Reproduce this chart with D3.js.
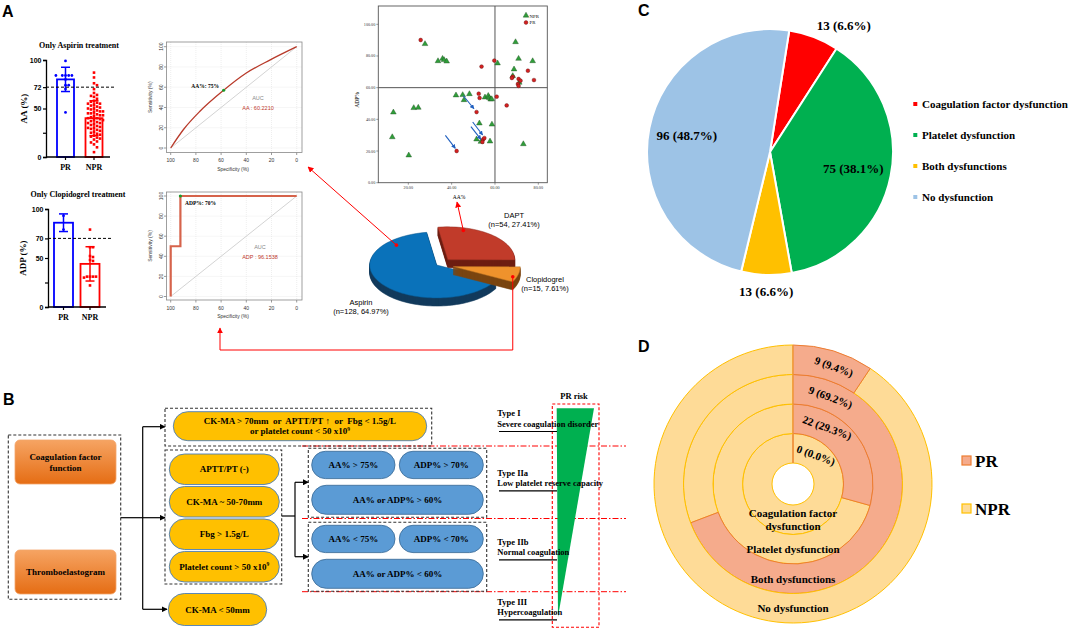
<!DOCTYPE html>
<html>
<head>
<meta charset="utf-8">
<script src="https://cdn.jsdelivr.net/npm/d3@7"></script>
<style>
body { margin: 0; background: #fff; }
svg { display: block; }
text { white-space: pre; }
</style>
</head>
<body>
<svg id="fig" width="1084" height="632"></svg>
<script>
// ---------------- data ----------------
// A: bar + dot plots
const groups = ["PR", "NPR"];
const aspMean = [80, 40];
const aspSd = [12.5, 18];
const aspPR = [99, 84, 84, 84, 84, 84, 80, 74, 74, 70, 46];
const aspNPR = [87, 82, 76, 74, 70, 66, 64, 63, 62, 60, 58, 57, 56, 55, 55, 54, 53, 52, 51, 50, 50,
  49, 48, 47, 47, 46, 45, 45, 44, 43, 43, 42, 41, 40, 40, 39, 38, 38, 37, 36, 35, 35, 34, 33, 32,
  31, 30, 30, 29, 28, 27, 26, 25, 24, 23, 22, 21, 20, 19, 18, 16, 15, 13, 10, 5];
const aspTicks = [0, 25, 50, 72, 100];
const aspTickLabels = [0, 50, 72, 100];
const aspCut = 72;

const clopMean = [86, 44];
const clopSd = [9, 17.5];
const clopPR = [93, 79];
const clopNPR = [79, 61, 61, 52, 51, 48, 47, 31, 31, 31, 31, 30, 22];
const clopTicks = [0, 25, 50, 70, 100];
const clopTickLabels = [0, 50, 70, 100];
const clopCut = 70;

// A: ROC curves (specificity, sensitivity)
const rocTicks = [0, 20, 40, 60, 80, 100];
const rocAaSpec = [100, 90, 77, 58, 40, 21, 0];
const rocAaSens = [0, 18, 36, 57, 74, 87, 100];
const rocAaCut = [58, 57];
const rocAdpSpec = [100, 100, 92.3, 92.3, 0];
const rocAdpSens = [0, 50, 50, 100, 100];
const rocAdpCut = [92.3, 100];

// A: scatter AA% vs ADP% (DAPT)
const prAA = [25.7, 59.7, 53.8, 75.2, 68.2, 67.8, 70.9, 71.8, 70.6, 70.9, 78.0, 52.5, 52.9, 60.8, 51.5, 65.4, 54.6, 54.2, 55.1, 42.3];
const prADP = [90.1, 77.1, 73.3, 70.7, 66.9, 66.1, 65.5, 64.4, 62.3, 61.1, 64.8, 56.2, 53.5, 54.3, 44.6, 48.8, 27.4, 25.7, 28.2, 20.0];
const nprAA = [27.7, 69.5, 33.7, 35.8, 36.5, 37.7, 61.2, 70.9, 77.4, 68.8, 68.2, 71.2, 42.0, 45.1, 48.2, 45.7,
  55.4, 56.9, 57.4, 58.0, 58.5, 22.5, 24.6, 13.1, 12.6, 20.2, 52.8, 58.6, 51.5, 53.5, 57.7, 73.1];
const nprADP = [87.6, 88.8, 76.8, 78.3, 77.5, 76.6, 75.4, 78.3, 76.8, 71.6, 67.4, 63.2, 55.2, 55.4, 56.0, 52.2,
  53.9, 54.9, 53.5, 52.6, 52.8, 47.2, 47.4, 44.4, 28.8, 17.3, 37.5, 36.8, 27.4, 25.9, 26.1, 24.4];
const scatTicksX = [20, 40, 60, 80];
const scatTicksY = [0, 20, 40, 60, 80, 100];
const shiftFromAA = [45.4, 49.7, 48.9, 37.1];
const shiftFromADP = [54.9, 38.3, 35.4, 29.9];
const shiftToAA = [50.3, 54.3, 53.5, 41.7];
const shiftToADP = [46.7, 30.1, 27.4, 21.7];

// A: treatment pie
const treatNames = ["DAPT", "Clopidogrel", "Aspirin"];
const treatN = [54, 15, 128];

// B: flow chart texts
const inputBoxes = [["Coagulation factor", "function"], ["Thromboelastogram"]];
const severeText = ["CK-MA > 70mm  or  APTT/PT \u2191  or  Fbg < 1.5g/L", "or platelet count < 50 x10"];
const normalConds = ["APTT/PT (-)", "CK-MA ~ 50-70mm", "Fbg > 1.5g/L", "Platelet count > 50 x10"];
const hyperText = "CK-MA < 50mm";
const lowRes = ["AA% > 75%", "ADP% > 70%", "AA% or ADP% > 60%"];
const normRes = ["AA% < 75%", "ADP% < 70%", "AA% or ADP% < 60%"];
const typeNames = ["Type I", "Type IIa", "Type IIb", "Type III"];
const typeDesc = ["Severe coagulation disorder", "Low platelet reserve capacity", "Normal coagulation", "Hypercoagulation"];

// C: dysfunction pie
const dysNames = ["Coagulation factor dysfunction", "Platelet dysfunction", "Both dysfunctions", "No dysfunction"];
const dysCounts = [13, 75, 13, 96];

// D: nested doughnut, inner ring to outer ring
const ringNames = [["Coagulation factor", "dysfunction"], ["Platelet dysfunction"], ["Both dysfunctions"], ["No dysfunction"]];
const ringPR = [0, 22, 9, 9];
const ringNPR = [13, 53, 4, 87];
const prGroups = ["PR", "NPR"];

// ---------------- setup ----------------
const SERIF = '"Liberation Serif","Times New Roman",serif';
const SANS = '"Liberation Sans",Arial,sans-serif';
const svg = d3.select("#fig");
svg.append("rect").attr("width", 1084).attr("height", 632).attr("fill", "#fff");
const defs = svg.append("defs");

function marker(id, color, size) {
    defs.append("marker").attr("id", id)
        .attr("viewBox", "0 0 10 10").attr("refX", 9).attr("refY", 5)
        .attr("markerWidth", size).attr("markerHeight", size)
        .attr("orient", "auto-start-reverse")
        .append("path").attr("d", "M0,0L10,5L0,10Z").attr("fill", color);
}
marker("arBlack", "#000", 5);
marker("arRed", "#f00", 6);
marker("arBlue", "#1f5fbf", 4);

function txt(g, x, y, s, size, opts) {
    opts = opts || {};
    return g.append("text").attr("x", x).attr("y", y).text(s)
        .attr("font-family", opts.family || SERIF)
        .attr("font-weight", opts.weight || "bold")
        .attr("font-size", size)
        .attr("fill", opts.fill || "#000")
        .attr("text-anchor", opts.anchor || "middle");
}

// panel letters
[["A", 2, 17], ["B", 3, 405], ["C", 638, 16], ["D", 638, 352]].forEach(p => {
    txt(svg, p[1], p[2], p[0], 16, { family: SANS, anchor: "start" });
});

// ---------------- A: bars with dots ----------------
function swarm(vals, y, cx, gap) {
    let pts = vals.map(v => ({ v: v, py: y(v) })).sort((a, b) => a.py - b.py);
    let placed = [];
    pts.forEach(p => {
        for (let k = 0; k < 30; k++) {
            let off = (k % 2 ? 1 : -1) * Math.ceil(k / 2) * gap;
            let hit = placed.some(q => Math.abs(q.px - (cx + off)) < gap && Math.abs(q.py - p.py) < gap);
            if (!hit || k == 29) { p.px = cx + off; break; }
        }
        placed.push(p);
    });
    return placed;
}

function barPanel(cfg) {
    const g = svg.append("g");
    const y = d3.scaleLinear().domain([0, 100]).range([cfg.y0, cfg.y1]);
    const x = d3.scalePoint().domain(groups).range(cfg.xr);
    const colors = ["#0000ff", "#ff0000"];

    g.selectAll("rect.bar").data(cfg.mean).join("rect").attr("class", "bar")
        .attr("x", (d, i) => x(groups[i]) - cfg.bw / 2).attr("y", d => y(d))
        .attr("width", cfg.bw).attr("height", d => cfg.y0 - y(d))
        .attr("fill", "#fff").attr("stroke", (d, i) => colors[i]).attr("stroke-width", 1.8);

    swarm(cfg.pr, y, x("PR"), 3.2).forEach(p => {
        g.append("circle").attr("cx", p.px).attr("cy", p.py).attr("r", 1.4).attr("fill", colors[0]);
    });
    swarm(cfg.npr, y, x("NPR"), 3.0).forEach(p => {
        g.append("rect").attr("x", p.px - 1.3).attr("y", p.py - 1.3).attr("width", 2.6).attr("height", 2.6).attr("fill", colors[1]);
    });

    cfg.mean.forEach((m, i) => {
        const cx = x(groups[i]);
        const lo = y(m - cfg.sd[i]), hi = y(m + cfg.sd[i]);
        g.append("line").attr("x1", cx).attr("x2", cx).attr("y1", lo).attr("y2", hi)
            .attr("stroke", colors[i]).attr("stroke-width", 1.5);
        [lo, hi].forEach(v => g.append("line").attr("x1", cx - 4.5).attr("x2", cx + 4.5).attr("y1", v).attr("y2", v)
            .attr("stroke", colors[i]).attr("stroke-width", 1.5));
    });

    g.append("line").attr("x1", cfg.ax).attr("x2", cfg.cutEnd).attr("y1", y(cfg.cut)).attr("y2", y(cfg.cut))
        .attr("stroke", "#000").attr("stroke-width", 1).attr("stroke-dasharray", "3,2");

    const ax = g.append("g").attr("transform", `translate(${cfg.ax},0)`)
        .call(d3.axisLeft(y).tickValues(cfg.ticks).tickSize(3)
            .tickFormat(d => cfg.labels.includes(d) ? d : ""));
    ax.select(".domain").attr("stroke-width", 1.3);
    ax.selectAll(".tick line").attr("stroke-width", 1.2);
    ax.selectAll("text").attr("font-family", SANS).attr("font-weight", "bold").attr("font-size", 7).attr("x", -4.5);

    g.append("line").attr("x1", cfg.ax).attr("x2", cfg.xEnd).attr("y1", cfg.y0).attr("y2", cfg.y0)
        .attr("stroke", "#000").attr("stroke-width", 1.3);
    groups.forEach(k => {
        g.append("line").attr("x1", x(k)).attr("x2", x(k)).attr("y1", cfg.y0).attr("y2", cfg.y0 + 3)
            .attr("stroke", "#000").attr("stroke-width", 1.2);
        txt(g, x(k), cfg.y0 + 13, k, 8);
    });

    txt(g, cfg.titleX, cfg.titleY, cfg.title, 8);
    txt(g, 0, 0, cfg.ylabel, 9).attr("transform", `translate(${cfg.ylabX},${(cfg.y0 + cfg.y1) / 2}) rotate(-90)`);
}

barPanel({ y0: 157, y1: 60, xr: [65.5, 94], bw: 17, ax: 46, xEnd: 110, cutEnd: 115,
    mean: aspMean, sd: aspSd, pr: aspPR, npr: aspNPR, ticks: aspTicks, labels: aspTickLabels, cut: aspCut,
    title: "Only Aspirin treatment", titleX: 79, titleY: 48, ylabel: "AA (%)", ylabX: 27 });
barPanel({ y0: 307, y1: 209, xr: [63.5, 90], bw: 19, ax: 48, xEnd: 106, cutEnd: 112,
    mean: clopMean, sd: clopSd, pr: clopPR, npr: clopNPR, ticks: clopTicks, labels: clopTickLabels, cut: clopCut,
    title: "Only Clopidogrel treatment", titleX: 78, titleY: 197, ylabel: "ADP (%)", ylabX: 26 });

// ---------------- A: ROC curves ----------------
function rocPanel(cfg) {
    const g = svg.append("g");
    const x = d3.scaleLinear().domain([100, 0]).range([170.7, 296.7]);
    const y = d3.scaleLinear().domain([0, 100]).range(cfg.yr);
    const bx0 = 166.5, bx1 = 302;
    rocTicks.forEach(t => {
        g.append("line").attr("x1", x(t)).attr("x2", x(t)).attr("y1", cfg.by0).attr("y2", cfg.by1)
            .attr("stroke", "#e2e2e2").attr("stroke-width", 0.6).attr("stroke-dasharray", "1,1");
        g.append("line").attr("x1", bx0).attr("x2", bx1).attr("y1", y(t)).attr("y2", y(t))
            .attr("stroke", "#e2e2e2").attr("stroke-width", 0.6).attr("stroke-dasharray", "1,1");
        g.append("line").attr("x1", x(t)).attr("x2", x(t)).attr("y1", cfg.by1).attr("y2", cfg.by1 + 2.5)
            .attr("stroke", "#555").attr("stroke-width", 0.6);
        txt(g, x(t), cfg.by1 + 9.5, t, 5, { family: SANS, weight: "normal", fill: "#333" });
        g.append("line").attr("x1", bx0).attr("x2", bx0 - 2.5).attr("y1", y(t)).attr("y2", y(t))
            .attr("stroke", "#555").attr("stroke-width", 0.6);
        txt(g, 0, 0, t, 5, { family: SANS, weight: "normal", fill: "#333" })
            .attr("transform", `translate(${bx0 - 4},${y(t)}) rotate(-90)`);
    });
    g.append("rect").attr("x", bx0).attr("y", cfg.by0).attr("width", bx1 - bx0).attr("height", cfg.by1 - cfg.by0)
        .attr("fill", "none").attr("stroke", "#888").attr("stroke-width", 0.8);
    g.append("line").attr("x1", x(100)).attr("y1", y(0)).attr("x2", x(0)).attr("y2", y(100))
        .attr("stroke", "#c8c8c8").attr("stroke-width", 0.8);
    const pts = cfg.spec.map((s, i) => [x(s), y(cfg.sens[i])]);
    g.append("path").attr("d", d3.line().curve(cfg.curve)(pts))
        .attr("fill", "none").attr("stroke", cfg.color).attr("stroke-width", cfg.lw);
    g.append("circle").attr("cx", x(cfg.cutPt[0])).attr("cy", y(cfg.cutPt[1])).attr("r", 1.6).attr("fill", "#1a9a2a");
    txt(g, cfg.cutLabX, cfg.cutLabY, cfg.cutLab, 5.5, { anchor: cfg.cutAnchor });
    txt(g, cfg.aucX, cfg.aucY, "AUC", 5.5, { weight: "normal", fill: "#8a8a8a", family: SANS });
    txt(g, cfg.aucX, cfg.aucY + 9.5, cfg.aucLab, 5.5, { weight: "normal", fill: "#c0392b", family: SANS });
    txt(g, 233, cfg.by1 + 18, "Specificity (%)", 5, { family: SANS, weight: "normal", fill: "#333" });
    txt(g, 0, 0, "Sensitivity (%)", 5, { family: SANS, weight: "normal", fill: "#333" })
        .attr("transform", `translate(152,${(cfg.by0 + cfg.by1) / 2}) rotate(-90)`);
}
rocPanel({ yr: [148, 46.7], by0: 42, by1: 152.5, spec: rocAaSpec, sens: rocAaSens, cutPt: rocAaCut,
    curve: d3.curveMonotoneX, color: "#b83a2a", lw: 1.3, cutLab: "AA%: 75%", cutLabX: 219, cutLabY: 88, cutAnchor: "end",
    aucX: 258, aucY: 100, aucLab: "AA : 60.2210" });
rocPanel({ yr: [296.5, 196], by0: 192, by1: 300, spec: rocAdpSpec, sens: rocAdpSens, cutPt: rocAdpCut,
    curve: d3.curveLinear, color: "#d6634b", lw: 2.2, cutLab: "ADP%: 70%", cutLabX: 185, cutLabY: 205, cutAnchor: "start",
    aucX: 260, aucY: 249, aucLab: "ADP : 96.1538" });

// ---------------- A: scatter ----------------
(function () {
    const g = svg.append("g");
    const x = d3.scaleLinear().domain([0, 80]).range([365, 538.3]);
    const y = d3.scaleLinear().domain([0, 100]).range([182.7, 24.3]);
    const bx0 = 378.3, bx1 = 547.3, by0 = 6, by1 = 182.7;
    g.append("rect").attr("x", bx0).attr("y", by0).attr("width", bx1 - bx0).attr("height", by1 - by0)
        .attr("fill", "none").attr("stroke", "#555").attr("stroke-width", 0.9);
    scatTicksX.forEach(t => {
        g.append("line").attr("x1", x(t)).attr("x2", x(t)).attr("y1", by1).attr("y2", by1 + 2).attr("stroke", "#555").attr("stroke-width", 0.6);
        txt(g, x(t), by1 + 6.5, t.toFixed(2), 4.2, { weight: "normal", fill: "#333" });
    });
    scatTicksY.forEach(t => {
        g.append("line").attr("x1", bx0).attr("x2", bx0 - 2).attr("y1", y(t)).attr("y2", y(t)).attr("stroke", "#555").attr("stroke-width", 0.6);
        txt(g, bx0 - 3, y(t) + 1.5, t.toFixed(2), 4.2, { weight: "normal", fill: "#333", anchor: "end" });
    });
    g.append("line").attr("x1", x(60)).attr("x2", x(60)).attr("y1", by0).attr("y2", by1).attr("stroke", "#555").attr("stroke-width", 1);
    g.append("line").attr("x1", bx0).attr("x2", bx1).attr("y1", y(60)).attr("y2", y(60)).attr("stroke", "#555").attr("stroke-width", 1);
    txt(g, 459, 199, "AA%", 5.5, { weight: "normal" });
    txt(g, 0, 0, "ADP%", 5.5, { weight: "normal" }).attr("transform", "translate(359,100) rotate(-90)");

    const tri = d3.symbol().type(d3.symbolTriangle).size(14);
    nprAA.forEach((a, i) => {
        g.append("path").attr("d", tri).attr("transform", `translate(${x(a)},${y(nprADP[i])})`)
            .attr("fill", "#2f9e3a").attr("stroke", "#1f4d1f").attr("stroke-width", 0.4);
    });
    prAA.forEach((a, i) => {
        g.append("circle").attr("cx", x(a)).attr("cy", y(prADP[i])).attr("r", 1.9)
            .attr("fill", "#d42020").attr("stroke", "#5a1010").attr("stroke-width", 0.4);
    });
    shiftFromAA.forEach((a, i) => {
        g.append("line").attr("x1", x(a)).attr("y1", y(shiftFromADP[i])).attr("x2", x(shiftToAA[i])).attr("y2", y(shiftToADP[i]))
            .attr("stroke", "#1f5fbf").attr("stroke-width", 1.1).attr("marker-end", "url(#arBlue)");
    });
    // legend
    g.append("path").attr("d", tri).attr("transform", "translate(526,15.5)").attr("fill", "#2f9e3a").attr("stroke", "#1f4d1f").attr("stroke-width", 0.4);
    txt(g, 529.5, 17.5, "NPR", 4.8, { anchor: "start", weight: "normal" });
    g.append("circle").attr("cx", 526).attr("cy", 22.5).attr("r", 1.9).attr("fill", "#d42020").attr("stroke", "#5a1010").attr("stroke-width", 0.4);
    txt(g, 529.5, 24.3, "PR", 4.8, { anchor: "start", weight: "normal" });
})();

// ---------------- A: 3D pie of treatments ----------------
(function () {
    const g = svg.append("g");
    const cx = 436.7, cy = 265, rx = 67, ry = 33, depth = 8, explode = 17;
    const a0 = -8.6 * Math.PI / 180;
    const slices = d3.pie().sort(null).startAngle(a0).endAngle(a0 + 2 * Math.PI)(treatN);
    const topCol = { "DAPT": "#c13b2a", "Clopidogrel": "#ef922c", "Aspirin": "#0a72ba" };
    const sideCol = { "DAPT": "#6e1f12", "Clopidogrel": "#7a4510", "Aspirin": "#123a5c" };
    function pt(ox, oy, t, k) { return [ox + k * rx * Math.sin(t), oy - k * ry * Math.cos(t)]; }
    function slicePath(ox, oy, s0, s1) {
        const n = Math.max(2, Math.ceil((s1 - s0) / 0.04));
        const pts = [[ox, oy]];
        for (let i = 0; i <= n; i++) pts.push(pt(ox, oy, s0 + (s1 - s0) * i / n, 1));
        return d3.line()(pts) + "Z";
    }
    const centers = slices.map((s, i) => {
        const mid = (s.startAngle + s.endAngle) / 2;
        const e = treatNames[i] == "Aspirin" ? 0 : explode;
        return [cx + e * Math.sin(mid), cy - e * 0.4 * Math.cos(mid)];
    });
    [0, 2, 1].forEach(i => {
        const s = slices[i], c = centers[i], nm = treatNames[i];
        for (let d = depth; d >= 1; d--) {
            g.append("path").attr("d", slicePath(c[0], c[1] + d, s.startAngle, s.endAngle))
                .attr("fill", sideCol[nm]).attr("stroke", sideCol[nm]).attr("stroke-width", 0.6);
        }
        g.append("path").attr("d", slicePath(c[0], c[1], s.startAngle, s.endAngle))
            .attr("fill", topCol[nm]).attr("stroke", d3.color(topCol[nm]).darker(0.8)).attr("stroke-width", 0.5);
    });

    // callout dots and red arrows to the plots they belong to
    const asp = pt(centers[2][0], centers[2][1], -45 * Math.PI / 180, 0.85);
    const dapt = pt(centers[0][0], centers[0][1], 14.6 * Math.PI / 180, 0.92);
    const clop = pt(centers[1][0], centers[1][1], 109 * Math.PI / 180, 0.94);
    const red = "#ff0000";
    g.append("line").attr("x1", asp[0]).attr("y1", asp[1]).attr("x2", 308).attr("y2", 167)
        .attr("stroke", red).attr("stroke-width", 1).attr("marker-end", "url(#arRed)");
    g.append("line").attr("x1", dapt[0]).attr("y1", dapt[1]).attr("x2", 457).attr("y2", 202)
        .attr("stroke", red).attr("stroke-width", 1).attr("marker-end", "url(#arRed)");
    g.append("path").attr("d", d3.line()([clop, [clop[0], 350], [220, 350], [220, 328]]))
        .attr("fill", "none").attr("stroke", red).attr("stroke-width", 1).attr("marker-end", "url(#arRed)");
    [asp, dapt, clop].forEach(p => g.append("circle").attr("cx", p[0]).attr("cy", p[1]).attr("r", 1.8).attr("fill", red));

    const total = d3.sum(treatN);
    const pct = n => (n / total * 100).toFixed(2) + "%";
    const labs = { "DAPT": [514, 217.5], "Clopidogrel": [545, 282], "Aspirin": [361, 305] };
    treatNames.forEach((nm, i) => {
        const p = labs[nm];
        txt(g, p[0], p[1], nm, 7.5, { family: SANS, weight: "normal" });
        txt(g, p[0], p[1] + 9, `(n=${treatN[i]}, ${pct(treatN[i])})`, 7.5, { family: SANS, weight: "normal" });
    });
})();

// ---------------- B: flow chart ----------------
(function () {
    const g = svg.append("g");
    const grad = defs.append("linearGradient").attr("id", "orangeGrad").attr("x1", 0).attr("y1", 0).attr("x2", 0).attr("y2", 1);
    grad.append("stop").attr("offset", "0%").attr("stop-color", "#f6a463");
    grad.append("stop").attr("offset", "100%").attr("stop-color", "#e56d14");

    function dashBox(x, y, w, h, color, dash) {
        g.append("rect").attr("x", x).attr("y", y).attr("width", w).attr("height", h)
            .attr("fill", "none").attr("stroke", color || "#333").attr("stroke-width", 1.1)
            .attr("stroke-dasharray", dash || "3,2");
    }
    function pill(x, y, w, h, fill, stroke, lines, size) {
        g.append("rect").attr("x", x).attr("y", y).attr("width", w).attr("height", h)
            .attr("rx", h / 2).attr("ry", h / 2).attr("fill", fill).attr("stroke", stroke).attr("stroke-width", 0.9);
        const lh = 10;
        lines.forEach((l, i) => {
            const yy = y + h / 2 + 3.2 + (i - (lines.length - 1) / 2) * lh;
            const t = txt(g, x + w / 2, yy, l, size || 9);
            if (l.endsWith("x10")) {
                t.append("tspan").attr("font-size", 5.5).attr("dy", -3.5).text("9");
            }
        });
    }
    function arrowLine(pts, color) {
        g.append("path").attr("d", d3.line()(pts)).attr("fill", "none")
            .attr("stroke", color || "#000").attr("stroke-width", 1.2)
            .attr("marker-end", "url(#arBlack)");
    }
    function line(pts, color, w) {
        g.append("path").attr("d", d3.line()(pts)).attr("fill", "none")
            .attr("stroke", color || "#000").attr("stroke-width", w || 1.2);
    }

    // red dash-dot type separators
    [446, 518.5, 591.7].forEach(v => {
        g.append("line").attr("x1", 302).attr("x2", 626).attr("y1", v).attr("y2", v)
            .attr("stroke", "#ff0000").attr("stroke-width", 1).attr("stroke-dasharray", "6,2,1.5,2");
    });

    // inputs
    dashBox(8.3, 435, 112.4, 164.3);
    const inY = [440, 550];
    inputBoxes.forEach((lines, i) => {
        g.append("rect").attr("x", 15).attr("y", inY[i]).attr("width", 101).attr("height", 44).attr("rx", 5)
            .attr("fill", "url(#orangeGrad)").attr("stroke", "#f4a46a").attr("stroke-width", 0.8);
        lines.forEach((l, k) => txt(g, 65.5, inY[i] + 25 + (k - (lines.length - 1) / 2) * 11, l, 9));
    });
    line([[120.7, 517.7], [142.7, 517.7]]);
    line([[142.7, 426.7], [142.7, 609.3]]);
    arrowLine([[142.7, 426.7], [165, 426.7]]);
    arrowLine([[142.7, 517.7], [165, 517.7]]);
    arrowLine([[142.7, 609.3], [167, 609.3]]);

    // coagulation states
    dashBox(165, 408.3, 266.7, 37.7);
    pill(173.3, 411.7, 253.4, 29, "#ffc000", "#4a7ebb", severeText, 9);
    dashBox(165, 450, 116.7, 134);
    const condY = d3.scaleBand().domain(d3.range(normalConds.length)).range([454, 582]).paddingInner(0.06);
    normalConds.forEach((c, i) => pill(169.3, condY(i), 110, condY.bandwidth(), "#ffc000", "#4a7ebb", [c], 9));
    pill(168.3, 593.5, 98.4, 32, "#ffc000", "#4a7ebb", [hyperText], 9);

    // platelet function results
    line([[281.7, 516], [295, 516]]);
    line([[295, 482.3], [295, 556.7]]);
    arrowLine([[295, 482.3], [308.3, 482.3]]);
    arrowLine([[295, 556.7], [308.3, 556.7]]);
    [[448.3, lowRes], [522.3, normRes]].forEach(b => {
        const y0 = b[0], labs = b[1];
        dashBox(308.3, y0, 178.4, 69);
        pill(311.7, y0 + 3, 83.3, 27.3, "#5b9bd5", "#41719c", [labs[0]], 9);
        pill(399.3, y0 + 3, 84, 27.3, "#5b9bd5", "#41719c", [labs[1]], 9);
        pill(311.7, y0 + 37, 171.6, 29, "#5b9bd5", "#41719c", [labs[2]], 9);
    });

    // PR risk wedge
    g.append("path").attr("d", d3.line()([[556.7, 408.3], [594, 408.3], [558, 617]]) + "Z").attr("fill", "#00b050");
    dashBox(552.3, 404, 46.7, 223.3, "#ff0000", "3,2");
    txt(g, 574, 399, "PR risk", 8.5);

    const typeY = [416.3, 475.7, 544.7, 604.7];
    typeNames.forEach((t, i) => {
        txt(g, 497.3, typeY[i], t, 8.5, { anchor: "start" });
        txt(g, 497.3, typeY[i] + 10.7, typeDesc[i], 8.5, { anchor: "start" });
        line([[499, typeY[i] + 15.2], [557, typeY[i] + 15.2]], "#000", 1.2);
    });
})();

// ---------------- C: pie of dysfunction types ----------------
(function () {
    const g = svg.append("g").attr("transform", "translate(770,152)");
    const R = 123;
    const colors = ["#ff0000", "#00b050", "#ffc000", "#9dc3e6"];
    const a0 = 9 * Math.PI / 180;
    const arcs = d3.pie().sort(null).startAngle(a0).endAngle(a0 + 2 * Math.PI)(dysCounts);
    const total = d3.sum(dysCounts);
    g.selectAll("path").data(arcs).join("path")
        .attr("d", d3.arc().innerRadius(0).outerRadius(R))
        .attr("fill", (d, i) => colors[i]).attr("stroke", "#fff").attr("stroke-width", 2);
    arcs.forEach((d, i) => {
        const mid = (d.startAngle + d.endAngle) / 2;
        const s = Math.sin(mid), c = Math.cos(mid);
        const lab = `${d.data} (${(d.data / total * 100).toFixed(1)}%)`;
        if (d.data / total > 0.2) {
            txt(g, 0.69 * R * s, -0.69 * R * c + 4.5, lab, 13);
        } else {
            const px = (R + 8) * s, py = -(R + 8) * c;
            const anchor = s > 0.2 ? "start" : (s < -0.2 ? "end" : "middle");
            txt(g, px, c > 0 ? py : py + 13, lab, 13, { anchor: anchor });
        }
    });
    const leg = svg.append("g");
    const ly = d3.scalePoint().domain(dysNames).range([104, 197]);
    dysNames.forEach((n, i) => {
        leg.append("rect").attr("x", 913.3).attr("y", ly(n) - 2).attr("width", 4).attr("height", 4).attr("fill", colors[i]);
        txt(leg, 922, ly(n) + 3.8, n, 11, { anchor: "start" });
    });
})();

// ---------------- D: nested doughnut PR / NPR ----------------
(function () {
    const cx = 793, cy = 484;
    const g = svg.append("g").attr("transform", `translate(${cx},${cy})`);
    const rr = d3.scaleLinear().domain([0, 4]).range([21, 139]);
    const fills = ["#f5ab8c", "#fedb97"];
    const strokes = ["#ed7d31", "#ffc000"];
    const pie = d3.pie().sort(null);
    // NPR first so PR borders sit on top
    ringNames.forEach((nm, i) => {
        const arcs = pie([ringPR[i], ringNPR[i]]);
        const arc = d3.arc().innerRadius(rr(i)).outerRadius(rr(i + 1));
        [1, 0].forEach(k => {
            g.append("path").attr("d", arc(arcs[k])).attr("fill", fills[k])
                .attr("stroke", strokes[k]).attr("stroke-width", 1);
        });
    });
    // start line at the top of every ring
    g.append("line").attr("x1", 0).attr("x2", 0).attr("y1", -rr(0)).attr("y2", -rr(4))
        .attr("stroke", "#f0a040").attr("stroke-width", 1);
    ringNames.forEach((nm, i) => {
        const rm = (rr(i) + rr(i + 1)) / 2;
        nm.forEach((l, k) => txt(g, 0, rm + 4 + (k - (nm.length - 1) / 2) * 13, l, 11));
        const tot = ringPR[i] + ringNPR[i];
        const lab = `${ringPR[i]} (${(ringPR[i] / tot * 100).toFixed(1)}%)`;
        txt(g, 0, 0, lab, 11, { anchor: "start" })
            .attr("dominant-baseline", "central")
            .attr("transform", `translate(${4 + i * 6},${-rm}) rotate(20)`);
    });
    const leg = svg.append("g");
    prGroups.forEach((p, i) => {
        const y0 = 456 + i * 48;
        leg.append("rect").attr("x", 962).attr("y", y0).attr("width", 9).attr("height", 9)
            .attr("fill", fills[i]).attr("stroke", strokes[i]).attr("stroke-width", 1.2);
        txt(leg, 975, y0 + 10.5, p, 17, { anchor: "start" });
    });
})();
</script>
</body>
</html>
